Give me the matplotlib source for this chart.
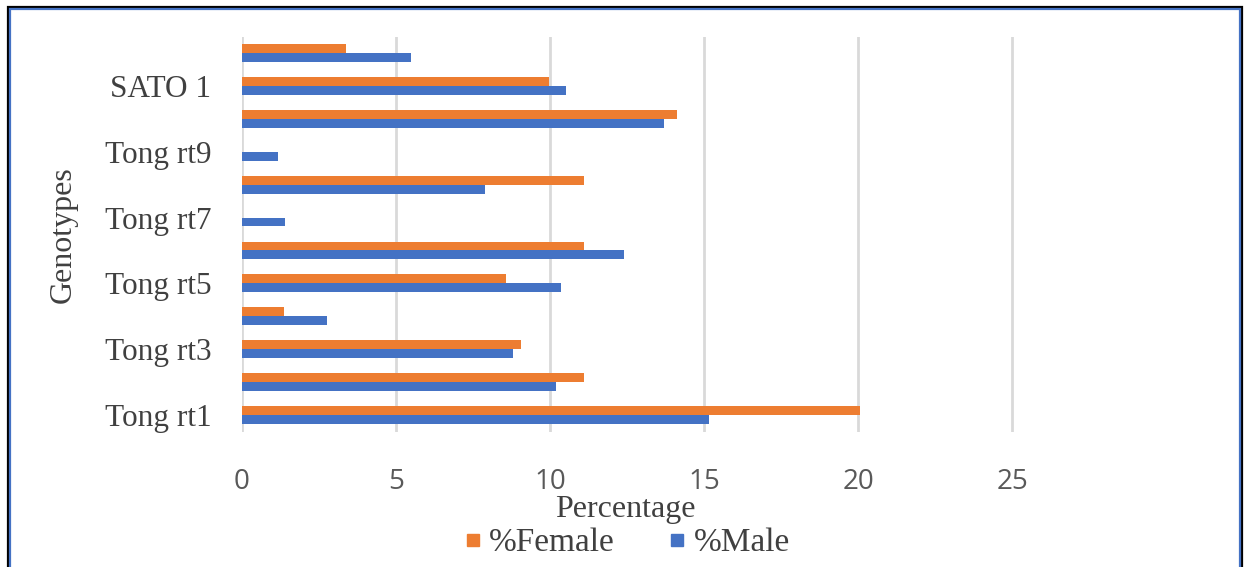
import matplotlib
matplotlib.use("Agg")
import matplotlib.pyplot as plt
import numpy as np
from matplotlib.patches import Rectangle
from matplotlib.lines import Line2D

# Genotype categories, bottom to top
genotypes = ["Tong rt1", "Tong rt2", "Tong rt3", "Tong rt4", "Tong rt5", "Tong rt6",
             "Tong rt7", "Tong rt8", "Tong rt9", "Tong rt10", "SATO 1", "SATO 2"]
pct_female = [20.05, 11.1, 9.07, 1.37, 8.57, 11.1, 0.0, 11.1, 0.0, 14.13, 9.98, 3.38]
pct_male = [15.15, 10.2, 8.8, 2.75, 10.36, 12.4, 1.38, 7.9, 1.17, 13.7, 10.53, 5.5]
x_ticks = [0, 5, 10, 15, 20, 25]

ORANGE = "#ED7D31"
BLUE = "#4472C4"
TEXT = "#404040"
TICK = "#595959"

W, H = 1244, 567
fig = plt.figure(figsize=(W / 100, H / 100), dpi=100)
ax = fig.add_axes([242 / W, 1 - 431.5 / H, (1166 - 242) / W, (431.5 - 36.5) / H])

y = np.arange(len(genotypes))
bh = 0.27
ax.barh(y + bh / 2, pct_female, height=bh, color=ORANGE, zorder=3)
ax.barh(y - bh / 2, pct_male, height=bh, color=BLUE, zorder=3)

ax.set_xlim(0, 30)
ax.set_ylim(-0.5, len(genotypes) - 0.5)
ax.set_xticks(x_ticks)
ax.set_xticklabels([str(v) for v in x_ticks], fontsize=20, color=TICK, family="Open Sans")
ax.tick_params(axis="x", length=0, pad=26)

ax.set_yticks(y[::2])
ax.set_yticklabels(genotypes[::2], fontsize=22.5, color=TEXT, family="Liberation Serif")
ax.tick_params(axis="y", length=0, pad=22)

ax.grid(axis="x", color="#D9D9D9", linewidth=2, zorder=0)
for s in ax.spines.values():
    s.set_visible(False)

fig.text(63 / W, 1 - 235 / H, "Genotypes", rotation=90, ha="center", va="center",
         fontsize=23, color=TEXT, family="Liberation Serif")
fig.text(625 / W, 1 - 510 / H, "Percentage", ha="center", va="center",
         fontsize=23, color=TEXT, family="Liberation Serif")

handles = [Line2D([], [], marker="s", linestyle="none", markersize=8.5, color=ORANGE),
           Line2D([], [], marker="s", linestyle="none", markersize=8.5, color=BLUE)]
fig.legend(handles, ["%Female", "%Male"], loc="center", bbox_to_anchor=(627 / W, 1 - 543 / H),
           ncol=2, frameon=False, handlelength=0.5, handletextpad=0.25, columnspacing=1.6,
           prop={"family": "Liberation Serif", "size": 24}, labelcolor=TEXT)

# Frame around the chart: dark outer line with a blue inner line
fig.add_artist(Rectangle((8 / W, -0.2), (1242 - 8) / W, 1.2 - 6.5 / H, transform=fig.transFigure,
                         fill=False, edgecolor="black", linewidth=1.6))
fig.add_artist(Rectangle((10 / W, -0.2), (1240 - 10) / W, 1.2 - 8.5 / H, transform=fig.transFigure,
                         fill=False, edgecolor=BLUE, linewidth=1.6))

fig.savefig("out.png", dpi=100)
